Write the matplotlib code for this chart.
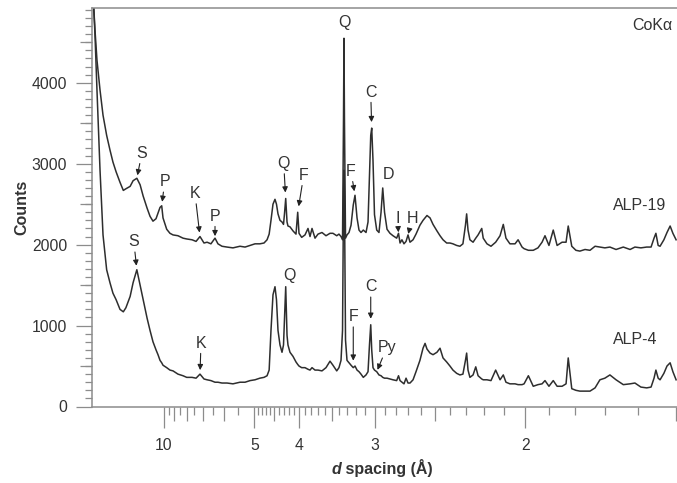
import matplotlib
matplotlib.use("Agg")
import matplotlib.pyplot as plt
import numpy as np

plt.rcParams["font.family"] = ["Liberation Sans", "DejaVu Sans"]

# d spacing (Å) shared by both scans, from low to high angle
d_spacing = [
    45.6, 42.4, 38.8, 34.3, 30.8, 27.4, 24.9, 23.0, 21.3, 19.5,
    18.2, 17.3, 16.0, 15.2, 14.3, 13.6, 13.0, 12.3, 11.83, 11.39,
    10.97, 10.71, 10.46, 10.26, 10.11, 9.71, 9.38, 9.09, 8.66, 8.26,
    7.99, 7.63, 7.38, 7.15, 6.93, 6.77, 6.58, 6.39, 6.26, 6.09,
    5.89, 5.67, 5.43, 5.27, 5.12, 4.98, 4.85, 4.745, 4.67, 4.62,
    4.577, 4.531, 4.486, 4.453, 4.420, 4.377, 4.335, 4.304, 4.284, 4.259,
    4.233, 4.214, 4.175, 4.118, 4.062, 4.031, 4.008, 3.961, 3.904, 3.854,
    3.821, 3.789, 3.742, 3.696, 3.637, 3.579, 3.523, 3.483, 3.433, 3.404,
    3.378, 3.359, 3.347, 3.341, 3.335, 3.322, 3.304, 3.280, 3.256, 3.230,
    3.210, 3.187, 3.165, 3.143, 3.118, 3.089, 3.068, 3.053, 3.040, 3.030,
    3.017, 3.002, 2.980, 2.958, 2.938, 2.922, 2.905, 2.882, 2.855, 2.828,
    2.796, 2.780, 2.767, 2.751, 2.734, 2.717, 2.701, 2.685, 2.661, 2.638,
    2.608, 2.585, 2.570, 2.556, 2.534, 2.513, 2.486, 2.465, 2.445, 2.421,
    2.400, 2.381, 2.358, 2.338, 2.320, 2.305, 2.298, 2.290, 2.279, 2.261,
    2.246, 2.233, 2.213, 2.205, 2.185, 2.164, 2.140, 2.118, 2.102, 2.089,
    2.070, 2.046, 2.032, 2.014, 2.005, 1.986, 1.965, 1.945, 1.928, 1.916,
    1.900, 1.883, 1.868, 1.849, 1.834, 1.826, 1.813, 1.798, 1.784, 1.766,
    1.749, 1.732, 1.716, 1.700, 1.684, 1.665, 1.643, 1.623, 1.609, 1.592,
    1.576, 1.564, 1.556, 1.551, 1.545, 1.540, 1.530, 1.522, 1.514, 1.507,
    1.499,
]

counts_alp19 = [
    4990, 4650, 4280, 3910, 3600, 3350, 3170, 3020, 2900, 2770,
    2670, 2690, 2720, 2790, 2820, 2740, 2600, 2450, 2350, 2290,
    2320, 2390, 2460, 2480, 2330, 2190, 2140, 2120, 2110, 2080,
    2070, 2060, 2040, 2100, 2020, 2030, 2010, 2080, 2010, 1980,
    1970, 1960, 1980, 1970, 1990, 2010, 2010, 2020, 2060, 2130,
    2300, 2500, 2560, 2500, 2380, 2300, 2280, 2250, 2380, 2570,
    2280, 2230, 2220, 2170, 2130, 2400, 2140, 2090, 2120, 2200,
    2100, 2200, 2080, 2130, 2150, 2110, 2140, 2140, 2110, 2130,
    2100, 2060, 3540, 4550, 3540, 2080, 2120, 2150, 2240, 2490,
    2610, 2330, 2180, 2150, 2180, 2150, 2280, 2860, 3350, 3440,
    3040, 2370, 2180, 2150, 2400, 2700, 2400, 2190, 2140, 2110,
    2080, 2140, 2020, 2060, 2010, 2040, 2120, 2030, 2060, 2130,
    2240, 2300, 2330, 2360, 2330, 2250, 2170, 2110, 2060, 2020,
    2020, 2010, 1990, 1980, 2010, 2240, 2380, 2180, 2060, 2030,
    2080, 2120, 2200, 2080, 2010, 1980, 2030, 2110, 2250, 2080,
    2010, 2010, 2060, 1970, 1950, 1930, 1930, 1960, 2030, 2110,
    1990, 2180, 1990, 2030, 2030, 2230, 1980, 1930, 1920, 1940,
    1930, 1980, 1970, 1960, 1970, 1940, 1970, 1940, 1970, 1960,
    1970, 1970, 2080, 2140, 1990, 1980, 2060, 2150, 2230, 2140,
    2060,
]

counts_alp4 = [
    4990, 4590, 3910, 2920, 2120, 1690, 1530, 1400, 1320, 1200,
    1170, 1220, 1360, 1530, 1690, 1500, 1320, 1090, 940, 800,
    700, 640, 570, 540, 510, 480, 450, 440, 400, 380,
    360, 360, 350, 400, 340, 330, 320, 300, 300, 290,
    290, 280, 300, 300, 320, 330, 350, 360, 380, 450,
    940, 1380, 1480, 1320, 940, 760, 670, 760, 1070, 1480,
    880, 760, 670, 620, 550, 520, 500, 480, 480, 460,
    450, 480, 450, 450, 440, 480, 560, 510, 440, 480,
    570, 940, 2550, 2920, 2550, 820, 570, 540, 510, 480,
    500, 450, 430, 400, 360, 390, 430, 760, 1010, 700,
    480, 450, 430, 390, 380, 360, 350, 350, 340, 330,
    320, 380, 320, 300, 280, 350, 290, 290, 330, 430,
    570, 720, 780, 710, 660, 640, 670, 720, 600, 550,
    500, 450, 410, 390, 400, 570, 660, 450, 360, 390,
    490, 380, 340, 330, 330, 320, 450, 330, 390, 300,
    280, 280, 270, 270, 280, 380, 250, 270, 280, 320,
    250, 320, 250, 250, 280, 600, 220, 200, 190, 190,
    190, 230, 330, 350, 390, 330, 270, 280, 290, 240,
    230, 240, 350, 450, 350, 330, 410, 500, 540, 430,
    330,
]

samples = ["ALP-19", "ALP-4"]

# tick marks along the d axis (Å)
major_d = [10, 5, 4, 3, 2]
medium_d = [9, 8, 7, 6, 4.5, 3.5, 2.5, 1.5]
minor_d = [9.5, 8.5, 7.5, 6.5, 5.5,
           4.9, 4.8, 4.7, 4.6, 4.4, 4.3, 4.2, 4.1,
           3.9, 3.8, 3.7, 3.6, 3.4, 3.3, 3.2, 3.1,
           2.9, 2.8, 2.7, 2.6, 2.4, 2.3, 2.2, 2.1,
           1.9, 1.8, 1.7, 1.6]

# phase labels: (scan, letter, peak d, label dx, label dy, arrow gap) in pixels
peak_labels = [
    (0, "S", 14.3, 5, 25, 3),
    (0, "P", 10.26, 3, 24, 4),
    (0, "K", 7.15, -5, 43, 4),
    (0, "P", 6.39, 0, 22, 2),
    (0, "Q", 4.259, -2, 35, 6),
    (0, "F", 4.031, 6, 37, 6),
    (0, "Q", 3.341, 0, 16, None),
    (0, "F", 3.210, -4, 24, 4),
    (0, "C", 3.030, -1, 36, 6),
    (0, "D", 2.922, 6, 13, None),
    (0, "I", 2.780, -1, 15, 1),
    (0, "H", 2.701, 4, 16, 1),
    (1, "S", 14.3, -3, 28, 4),
    (1, "K", 7.15, 1, 31, 4),
    (1, "Q", 4.259, 4, 11, None),
    (1, "F", 3.230, 0, 51, 7),
    (1, "C", 3.040, 0, 38, 6),
    (1, "Py", 2.980, 10, 24, 2),
]

text_color = "#333333"
axis_color = "#8c8c8c"
line_color = "#2e2e2e"

q = 1.0 / np.array(d_spacing)
scans = [np.array(counts_alp19), np.array(counts_alp4)]

fig = plt.figure(figsize=(6.77, 4.83), dpi=100)
ax = fig.add_axes([92 / 677, 76.5 / 483, 585 / 677, 399 / 483])

for counts in scans:
    ax.plot(q, counts, color=line_color, lw=1.1)

ax.set_xlim(0.02027, 0.66811)
ax.set_ylim(0, 4930)

ax.spines["right"].set_visible(False)
for side in ("left", "bottom", "top"):
    ax.spines[side].set_color(axis_color)
    ax.spines[side].set_linewidth(1.1)

# x axis is linear in 1/d, labelled in d
ax.set_xticks(1.0 / np.array(major_d, dtype=float))
ax.set_xticklabels([str(v) for v in major_d])
ax.set_xticks(1.0 / np.array(minor_d), minor=True)
ax.set_yticks([0, 1000, 2000, 3000, 4000])
ax.set_yticks(np.arange(0, 4901, 100), minor=True)

ax.tick_params(axis="x", which="major", direction="out", length=14.8, width=0.9,
               color=axis_color, labelsize=11.3, labelcolor=text_color, pad=8)
ax.tick_params(axis="x", which="minor", direction="out", length=6.0, width=0.9,
               color=axis_color)
ax.tick_params(axis="y", which="major", direction="out", length=11.2, width=0.9,
               color=axis_color, labelsize=11.3, labelcolor=text_color, pad=6.8)
ax.tick_params(axis="y", which="minor", direction="out", length=4.8, width=0.9,
               color=axis_color)
ax.tick_params(top=False, right=False, which="both")

# intermediate tick lengths
sec_x = ax.secondary_xaxis("bottom")
sec_x.set_xticks(1.0 / np.array(medium_d))
sec_x.tick_params(direction="out", length=10.0, width=0.9, color=axis_color,
                  labelbottom=False)
sec_x.spines["bottom"].set_visible(False)

sec_y = ax.secondary_yaxis("left")
sec_y.set_yticks(np.arange(500, 4900, 1000))
sec_y.tick_params(direction="out", length=8.3, width=0.9, color=axis_color,
                  labelleft=False)
sec_y.spines["left"].set_visible(False)

for scan, letter, d, dx, dy, gap in peak_labels:
    qx = 1.0 / d
    y = np.interp(qx, q, scans[scan])
    props = None
    if gap is not None:
        props = dict(arrowstyle="-|>", color="#222222", lw=0.8,
                     mutation_scale=8, shrinkA=0, shrinkB=gap * 0.72)
    ax.annotate(letter, xy=(qx, y), xytext=(dx, dy), textcoords="offset pixels",
                ha="center", va="center", fontsize=11.5, color=text_color,
                arrowprops=props)

ax.text(0.9915, 0.956, "CoKα", transform=ax.transAxes, ha="right", va="center",
        fontsize=11.5, color=text_color)
ax.text(0.8906, 0.505, samples[0], transform=ax.transAxes, ha="left", va="center",
        fontsize=11.5, color=text_color)
ax.text(0.8906, 0.167, samples[1], transform=ax.transAxes, ha="left", va="center",
        fontsize=11.5, color=text_color)

fig.text(22 / 677, 1 - 207 / 483, "Counts", rotation=90, ha="center", va="center",
         fontsize=11.5, weight="bold", color=text_color)
d_text = fig.text(341 / 677, 1 - 477 / 483, "d", ha="right", va="bottom",
                  fontsize=11.5, weight="bold", style="italic", color=text_color)
ax.annotate(" spacing (Å)", xy=(1, 0), xycoords=d_text, ha="left", va="bottom",
            fontsize=11.5, weight="bold", color=text_color)

fig.savefig("out.png", dpi=100)
